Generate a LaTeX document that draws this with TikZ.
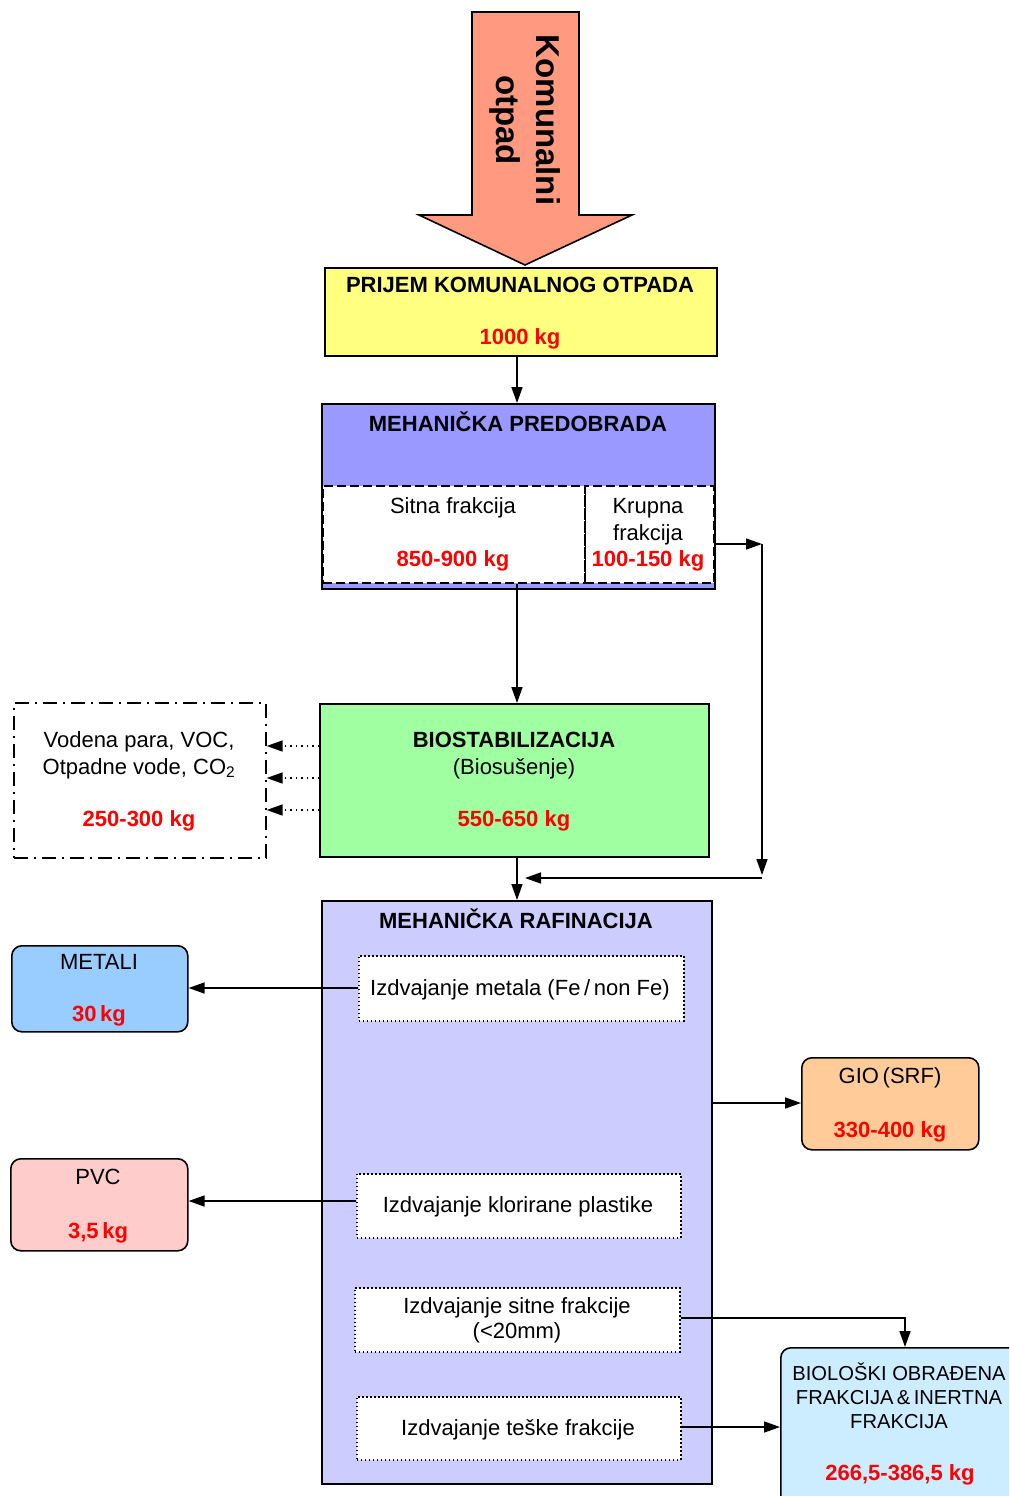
\documentclass[tikz,border=0pt]{standalone}
\usepackage{fontspec}
\setmainfont{Liberation Sans}
\usetikzlibrary{arrows.meta}
\definecolor{arrowfill}{HTML}{FF9980}
\definecolor{prijem}{HTML}{FFFF80}
\definecolor{predob}{HTML}{9999FF}
\definecolor{biostab}{HTML}{A0FFA0}
\definecolor{rafin}{HTML}{CCCCFF}
\definecolor{metali}{HTML}{99CCFF}
\definecolor{pvc}{HTML}{FFCCCC}
\definecolor{gio}{HTML}{FFCC99}
\definecolor{bioobr}{HTML}{CCECFF}
\definecolor{kgred}{HTML}{FF0000}
\begin{document}
\begin{tikzpicture}[x=1pt,y=-1pt,
  box/.style={draw, line width=1.6pt, inner sep=0pt, anchor=north west},
  rbox/.style={box, rounded corners=10pt},
  dbox/.style={draw, line width=1.6pt, dash pattern=on 9pt off 4pt, fill=white, inner sep=0pt, anchor=north west},
  obox/.style={draw, line width=1.5pt, dash pattern=on 1.5pt off 2.5pt, fill=white, inner sep=0pt, anchor=north west},
  lbl/.style={anchor=base, inner sep=0pt, font=\fontsize{22}{27}\selectfont},
  sl/.style={anchor=base, inner sep=0pt, font=\fontsize{20.2}{24}\selectfont},
  bl/.style={lbl, font=\fontsize{22}{27}\selectfont\bfseries},
  kg/.style={lbl, font=\fontsize{22}{27}\selectfont\bfseries, text=kgred},
  arr/.style={line width=1.6pt, -{Triangle[length=16pt,width=11pt]}},
  dotarr/.style={line width=1.5pt, dash pattern=on 1.5pt off 4pt, -{Triangle[length=16pt,width=11pt]}}]
\useasboundingbox (0,0) rectangle (1009,1496);
\clip (0,0) rectangle (1009,1496);

% incoming waste arrow
\draw[line width=1.6pt, fill=arrowfill, line join=miter]
  (472,12) -- (579,12) -- (579,215) -- (632,215) -- (525,265) -- (419,215) -- (472,215) -- cycle;
\node[rotate=-90, align=center, inner sep=0pt, font=\fontsize{33}{40}\selectfont\bfseries] (komunalni) at (525,120) {Komunalni\\otpad};

% reception
\node[box, fill=prijem, minimum width=392pt, minimum height=88pt] (prijem) at (324,267) {};
\node[bl] (prijemT) at (520,292) {PRIJEM KOMUNALNOG OTPADA};
\node[kg] (prijemK) at (520,344) {1000 kg};

% mechanical pretreatment
\node[box, fill=predob, minimum width=393pt, minimum height=185pt] (predob) at (321,403) {};
\node[bl] (predobT) at (518,431) {MEHANIČKA PREDOBRADA};
\node[dbox, minimum width=262pt, minimum height=97pt] (sitna) at (322,485) {};
\node[dbox, minimum width=129pt, minimum height=97pt] (krupna) at (584,485) {};
\draw[line width=1.6pt] (sitna.north east) -- (sitna.south east);
\node[lbl] (sitnaT) at (453,513) {Sitna frakcija};
\node[kg] (sitnaK) at (453,566) {850-900 kg};
\node[lbl] (krupnaT1) at (648,513) {Krupna};
\node[lbl] (krupnaT2) at (648,540) {frakcija};
\node[kg] (krupnaK) at (648,566) {100-150 kg};

% biostabilisation
\node[box, fill=biostab, minimum width=389pt, minimum height=153pt] (bio) at (319,703) {};
\node[bl] (bioT) at (514,747) {BIOSTABILIZACIJA};
\node[lbl] (bioS) at (514,774) {(Biosušenje)};
\node[kg] (bioK) at (514,826) {550-650 kg};

% emissions
\node[draw, line width=1.6pt, dash pattern=on 14pt off 6pt on 2pt off 6pt, inner sep=0pt, anchor=north west,
  minimum width=252pt, minimum height=155pt] (vap) at (13,702) {};
\node[lbl] (vapT1) at (139,747) {Vodena para, VOC,};
\node[lbl] (vapT2) at (139,774) {Otpadne vode, CO\textsubscript{2}};
\node[kg] (vapK) at (139,826) {250-300 kg};

% mechanical refining
\node[box, fill=rafin, minimum width=390pt, minimum height=583pt] (rafin) at (321,900) {};
\node[bl] (rafinT) at (516,928) {MEHANIČKA RAFINACIJA};
\node[obox, minimum width=325pt, minimum height=65pt] (metal) at (358,955) {};
\node[lbl] (metalT) at (520,995) {Izdvajanje metala (Fe\,/\,non Fe)};
\node[obox, minimum width=324pt, minimum height=64pt] (klor) at (356,1173) {};
\node[lbl] (klorT) at (518,1212) {Izdvajanje klorirane plastike};
\node[obox, minimum width=325pt, minimum height=64pt] (sitne) at (354,1287) {};
\node[lbl] (sitneT1) at (517,1313) {Izdvajanje sitne frakcije};
\node[lbl] (sitneT2) at (517,1338) {(<20mm)};
\node[obox, minimum width=324pt, minimum height=63pt] (teske) at (356,1396) {};
\node[lbl] (teskeT) at (518,1435) {Izdvajanje teške frakcije};

% outputs
\node[rbox, fill=metali, minimum width=176pt, minimum height=86pt] (metali) at (11,945) {};
\node[lbl] (metaliT) at (99,969) {METALI};
\node[kg] (metaliK) at (99,1021) {30\,kg};
\node[rbox, fill=pvc, minimum width=177pt, minimum height=92pt] (pvc) at (10,1158) {};
\node[lbl] (pvcT) at (98,1184) {PVC};
\node[kg] (pvcK) at (98,1238) {3,5\,kg};
\node[rbox, fill=gio, minimum width=177pt, minimum height=92pt] (gio) at (801,1057) {};
\node[lbl] (gioT) at (890,1083) {GIO\,(SRF)};
\node[kg] (gioK) at (890,1137) {330-400 kg};
\node[rbox, fill=bioobr, minimum width=250pt, minimum height=175pt] (bioobr) at (780,1347) {};
\node[sl] (bioobrT1) at (899,1380) {BIOLOŠKI OBRAĐENA};
\node[sl] (bioobrT2) at (899,1404) {FRAKCIJA\,\&\,INERTNA};
\node[sl] (bioobrT3) at (899,1428) {FRAKCIJA};
\node[kg] (bioobrK) at (900,1480) {266,5-386,5 kg};

% main flow
\draw[arr] (prijem.south -| 517,0) -- (predob.north -| 517,0);
\draw[arr] (sitna.south -| 517,0) -- (bio.north -| 517,0);
\draw[arr] (bio.south -| 517,0) -- (rafin.north -| 517,0);

% coarse fraction bypass
\coordinate (kr) at (762,544);
\coordinate (kb) at (762,875);
\coordinate (kc) at (762,878);
\coordinate (kd) at (525,878);
\draw[arr] (krupna.east |- kr) -- (kr);
\draw[arr] (kr) -- (kb);
\draw[arr] (kc) -- (kd);

% emissions from biostabilisation
\foreach \yy in {746,778,810}
  \draw[dotarr] (bio.west |- 0,\yy) -- (vap.east |- 0,\yy);

% separated streams
\draw[arr] (metal.west |- 0,988) -- (metali.east |- 0,988);
\draw[arr] (klor.west |- 0,1201) -- (pvc.east |- 0,1201);
\draw[arr] (rafin.east |- 0,1103) -- (gio.west |- 0,1103);
\coordinate (sb) at (905,1318);
\draw[arr] (sitne.east |- sb) -- (sb) -- (bioobr.north -| sb);
\draw[arr] (teske.east |- 0,1427) -- (bioobr.west |- 0,1427);
\end{tikzpicture}
\end{document}
